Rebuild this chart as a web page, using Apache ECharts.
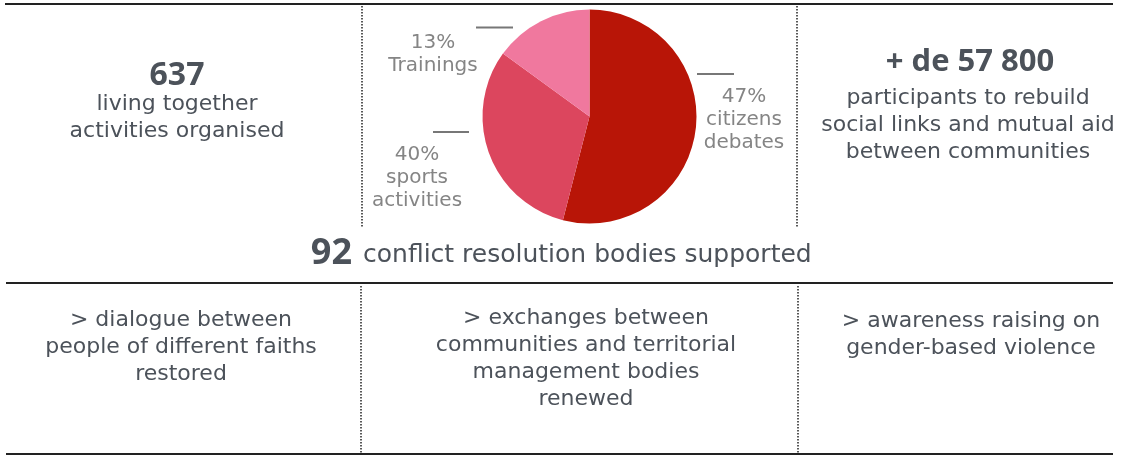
<!DOCTYPE html>
<html><head><meta charset="utf-8">
<script src="https://cdn.jsdelivr.net/npm/echarts@6/dist/echarts.min.js"></script>
<style>html,body{margin:0;padding:0;background:#fff}#c{width:1125px;height:456px}</style>
</head><body><div id="c"></div>
<script>
// Pie slices (angular shares as drawn), label texts as printed
const categories = ["citizens debates", "sports activities", "Trainings"];
const sliceValues = [54, 31, 15];
const printedPercents = ["47%", "40%", "13%"];
const sliceColors = ["#B81507", "#DC465E", "#F0789E"];

const leftNumber = "637";
const leftText = ["living together", "activities organised"];
const rightNumber = "+ de 57 800";
const rightText = ["participants to rebuild", "social links and mutual aid", "between communities"];
const middleNumber = "92";
const middleText = "conflict resolution bodies supported";
const bottomTexts = [
  ["> dialogue between", "people of different faiths", "restored"],
  ["> exchanges between", "communities and territorial", "management bodies", "renewed"],
  ["> awareness raising on", "gender-based violence"]
];

const FONT = "'DejaVu Sans', sans-serif";
const BOLD = "'Open Sans', 'Noto Sans', sans-serif";
const TXT = "#4c525a";
const LBL = "#858585";

const g = [];
function hline(x1, x2, y, w, c) {
  g.push({type: 'line', shape: {x1, y1: y, x2, y2: y}, style: {stroke: c || '#222', lineWidth: w || 2}});
}
function vdot(x, y1, y2) {
  g.push({type: 'line', shape: {x1: x, y1, x2: x, y2}, style: {stroke: '#222', lineWidth: 1.5, lineDash: [1.5, 1.5]}});
}
function text(t, x, y, size, color, bold, align) {
  g.push({type: 'text', x, y, style: {text: t, fill: color, font: (bold ? 'bold ' : '') + size + 'px ' + (bold ? BOLD : FONT), textAlign: align || 'center', textVerticalAlign: 'middle'}});
}

hline(5, 1113, 4, 2);
hline(6, 1113, 283, 2);
hline(6, 1113, 454, 2);
vdot(362, 6, 227);
vdot(797, 6, 227);
vdot(361, 286, 453);
vdot(798, 286, 453);

text(leftNumber, 177, 76, 32, TXT, true);
leftText.forEach((t, i) => text(t, 177, 104 + i * 27, 22, TXT));
text(rightNumber, 970, 62, 31, TXT, true);
rightText.forEach((t, i) => text(t, 968, 98 + i * 27, 22, TXT));

// middle line
text(middleNumber, 352, 254, 36, TXT, true, 'right');
text(middleText, 363, 255, 25, TXT, false, 'left');

// bottom row
const bx = [181, 586, 971];
const by = [320, 318, 321];
bottomTexts.forEach((lines, k) => lines.forEach((t, i) => text(t, bx[k], by[k] + i * 27, 22, TXT)));

// pie labels (text + detached short rule)
const lbl = [
  {cx: 744, ys: [97, 120, 143], line: [697, 734, 74]},
  {cx: 417, ys: [155, 178, 201], line: [433, 469, 132]},
  {cx: 433, ys: [43, 66], line: [476, 513, 27.5]}
];
categories.forEach((c, i) => {
  const L = lbl[i];
  let parts = [printedPercents[i]];
  if (i === 2) parts.push(c); else parts = parts.concat(c.split(' '));
  parts.forEach((t, j) => text(t, L.cx, L.ys[j], 20, LBL));
  hline(L.line[0], L.line[1], L.line[2], 2, '#777');
});

const chart = echarts.init(document.getElementById('c'));
chart.setOption({
  animation: false,
  series: [{
    type: 'pie',
    center: [589.5, 116.5],
    radius: 107,
    startAngle: 90,
    clockwise: true,
    label: {show: false},
    labelLine: {show: false},
    itemStyle: {borderWidth: 0},
    emphasis: {disabled: true},
    data: categories.map((c, i) => ({name: c, value: sliceValues[i], itemStyle: {color: sliceColors[i]}}))
  }],
  graphic: g
});
</script></body></html>
